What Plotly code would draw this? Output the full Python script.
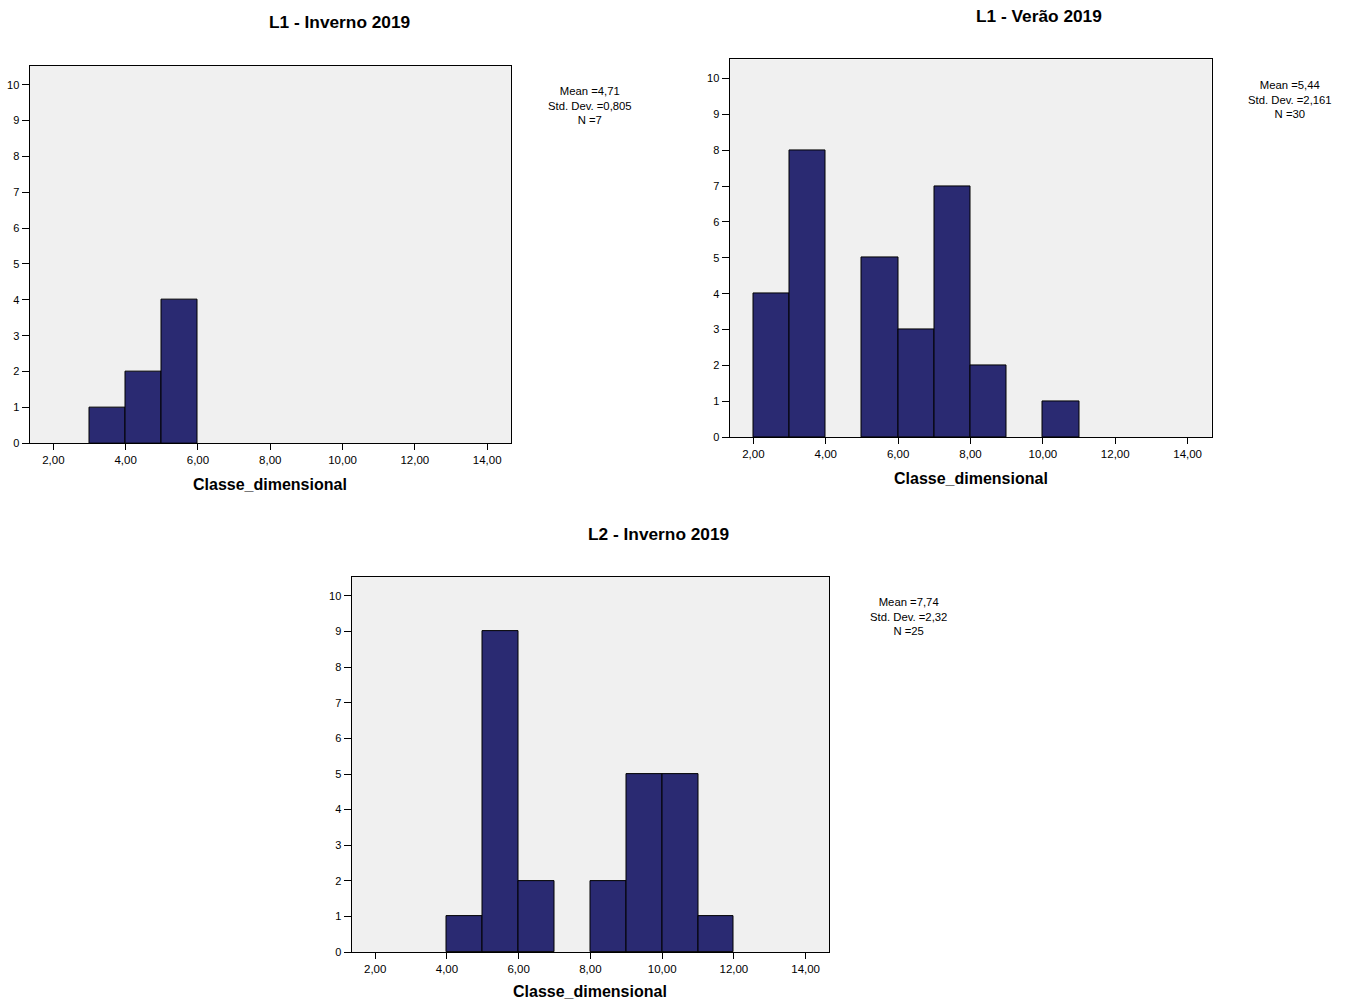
import plotly.graph_objects as go

# ---- data ----
bin_width = 1.0
p1_title = "L1 - Inverno 2019"
p1_bin_starts = [3, 4, 5]
p1_counts = [1, 2, 4]
p1_stats = ["Mean =4,71", "Std. Dev. =0,805", "N =7"]

p2_title = "L1 - Verão 2019"
p2_bin_starts = [2, 3, 4, 5, 6, 7, 8, 9, 10]
p2_counts = [4, 8, 0, 5, 3, 7, 2, 0, 1]
p2_stats = ["Mean =5,44", "Std. Dev. =2,161", "N =30"]

p3_title = "L2 - Inverno 2019"
p3_bin_starts = [4, 5, 6, 7, 8, 9, 10, 11]
p3_counts = [1, 9, 2, 0, 2, 5, 5, 1]
p3_stats = ["Mean =7,74", "Std. Dev. =2,32", "N =25"]

x_tick_vals = [2, 4, 6, 8, 10, 12, 14]
x_tick_text = ["2,00", "4,00", "6,00", "8,00", "10,00", "12,00", "14,00"]
y_tick_vals = list(range(0, 11))
x_title = "Classe_dimensional"

# ---- layout geometry (pixels) ----
W, H = 1345, 1002
SY = 1.005
panels = [
    dict(title=p1_title, starts=p1_bin_starts, counts=p1_counts, stats=p1_stats,
         px=(29.5, 511), py=(65.7, 443.7), title_x=339, title_y=22, xt_y=485, stat_x=590, stat_y=105.5),
    dict(title=p2_title, starts=p2_bin_starts, counts=p2_counts, stats=p2_stats,
         px=(729.5, 1211.5), py=(59.5, 437.7), title_x=1039, title_y=16, xt_y=479, stat_x=1290, stat_y=99.5),
    dict(title=p3_title, starts=p3_bin_starts, counts=p3_counts, stats=p3_stats,
         px=(351.5, 829.3), py=(577.7, 953), title_x=658, title_y=535, xt_y=993, stat_x=908, stat_y=617.5),
]

BAR = "#2a2a72"
FONT = "Liberation Sans, Arial, sans-serif"


def yp(v):
    return 1 - (v * SY) / H


fig = go.Figure()
annotations = []
layout = {}
for i, p in enumerate(panels, start=1):
    xa = "x" if i == 1 else f"x{i}"
    ya = "y" if i == 1 else f"y{i}"
    xs = [s + bin_width / 2 for s, c in zip(p["starts"], p["counts"]) if c > 0]
    ys = [c for c in p["counts"] if c > 0]
    fig.add_trace(go.Bar(
        x=xs, y=ys, width=bin_width,
        marker=dict(color=BAR, line=dict(color="#000000", width=1)),
        xaxis=xa, yaxis=ya, showlegend=False, hoverinfo="x+y",
    ))
    xd = [p["px"][0] / W, p["px"][1] / W]
    yd = [yp(p["py"][1]), yp(p["py"][0])]
    layout["xaxis" if i == 1 else f"xaxis{i}"] = dict(
        domain=xd, anchor=ya, range=[1.34, 14.66],
        tickvals=x_tick_vals, ticktext=x_tick_text,
        ticks="outside", ticklen=6, tickcolor="#000", tickwidth=1,
        showline=True, linecolor="#000", linewidth=1, mirror=True,
        showgrid=False, zeroline=False,
        tickfont=dict(family=FONT, size=11.5, color="#000"),
    )
    layout["yaxis" if i == 1 else f"yaxis{i}"] = dict(
        domain=yd, anchor=xa, range=[0, 10.53],
        tickvals=y_tick_vals, ticks="outside", ticklen=7, tickcolor="#000", tickwidth=1,
        showline=True, linecolor="#000", linewidth=1, mirror=True,
        showgrid=False, zeroline=False,
        tickfont=dict(family=FONT, size=11, color="#000"),
    )
    cx = (p["px"][0] + p["px"][1]) / 2
    annotations.append(dict(
        text=f"<b>{p['title']}</b>", x=p["title_x"] / W, y=yp(p["title_y"]),
        xref="paper", yref="paper", showarrow=False, xanchor="center", yanchor="middle",
        font=dict(family=FONT, size=17.3, color="#000"),
    ))
    annotations.append(dict(
        text=f"<b>{x_title}</b>", x=cx / W, y=yp(p["xt_y"]),
        xref="paper", yref="paper", showarrow=False, xanchor="center", yanchor="middle",
        font=dict(family=FONT, size=16, color="#000"),
    ))
    annotations.append(dict(
        text="<br>".join(p["stats"]), x=p["stat_x"] / W, y=yp(p["stat_y"]),
        xref="paper", yref="paper", showarrow=False, xanchor="center", yanchor="middle",
        align="center", borderpad=0,
        font=dict(family=FONT, size=11.3, color="#000"),
    ))

fig.update_layout(
    width=W, height=H, margin=dict(l=0, r=0, t=0, b=0),
    paper_bgcolor="#ffffff", plot_bgcolor="#f0f0f0",
    bargap=0, annotations=annotations, **layout,
)
fig.write_html("out.html")
